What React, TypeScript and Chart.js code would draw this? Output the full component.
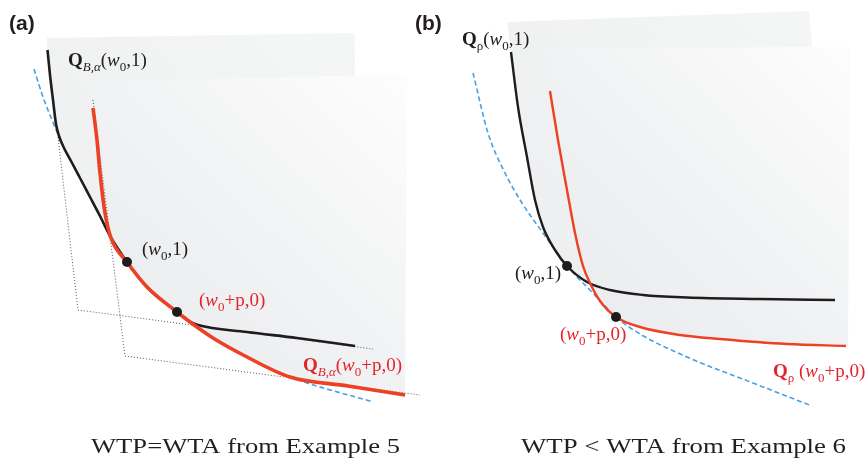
import React, { useEffect, useRef } from "react";
import { Chart, registerables } from "chart.js";

Chart.register(...registerables);

// ---------- data (panel coordinates, y grows downward) ----------
// Panel (a)
const blackCurveA = [[47.5, 50], [50, 75], [53, 100], [56, 124], [59, 136], [64, 148], [71, 161], [80, 178], [90, 197], [100, 216], [110, 236], [127, 262], [147, 287], [177, 312], [189, 321], [198, 325], [247, 332], [297, 338], [355, 346]];
const redCurveA = [[93, 108], [97, 140], [100, 173], [105, 213], [111, 238], [127, 262], [147, 287], [177, 312], [190, 322], [213, 338], [247, 357], [290, 377], [348, 386], [405, 395]];
const blueCurveA = [[34, 69], [43, 97], [52, 120], [57, 132], [64, 148], [71, 161], [80, 178], [90, 197], [100, 216], [110, 236], [127, 262], [147, 287], [177, 312], [213, 338], [247, 357], [290, 377], [373, 402]];
const backFrameA = [[58, 137], [78, 310], [373, 349]];
const frontFrameA = [[93, 100], [125, 356], [420, 395]];
const backSheetA = [[47, 38], [355, 33], [355, 346]];
const frontSheetA = [[93, 82], [407, 74], [405, 395]];
const dotsA = [[127, 262], [177, 312]];

// Panel (b)
const blackCurveB = [[511, 52], [518, 107], [527, 157], [535, 200], [543, 227], [555, 250], [567, 266], [587, 282], [610, 290], [643, 295], [687, 297.5], [760, 299], [835, 300]];
const redCurveB = [[550, 91], [558, 140], [567, 190], [575, 233], [583, 266], [590, 283], [600, 301], [616, 317], [640, 327], [680, 335], [720, 339], [787, 344], [846, 346]];
const blueCurveB = [[473, 73], [488, 133], [505, 173], [522, 203], [543, 233], [567, 266], [577, 277], [590, 290], [603, 304], [616, 317], [640, 334], [687, 357], [753, 383], [812, 406]];
const backSheetB = [[507, 22], [809, 11], [835, 300]];
const frontSheetB = [[549, 48], [850, 47], [848, 346]];
const dotsB = [[567, 266], [616, 317]];

// Labels: segments [text, style]; style: r regular, i italic, b bold, s subscript, si italic subscript
type Seg = [string, string];
const labelQBa1: Seg[] = [["Q", "b"], ["B,α", "si"], ["(", "r"], ["w", "i"], ["0", "s"], [",1)", "r"]];
const labelW1: Seg[] = [["(", "r"], ["w", "i"], ["0", "s"], [",1)", "r"]];
const labelWp0: Seg[] = [["(", "r"], ["w", "i"], ["0", "s"], ["+p,0)", "r"]];
const labelQBaP: Seg[] = [["Q", "b"], ["B,α", "si"], ["(", "r"], ["w", "i"], ["0", "s"], ["+p,0)", "r"]];
const labelQr1: Seg[] = [["Q", "b"], ["ρ", "s"], ["(", "r"], ["w", "i"], ["0", "s"], [",1)", "r"]];
const labelQrP: Seg[] = [["Q", "b"], ["ρ", "s"], [" (", "r"], ["w", "i"], ["0", "s"], ["+p,0)", "r"]];

const panelTags = ["(a)", "(b)"];
const captions = ["WTP=WTA from Example 5", "WTP < WTA from Example 6"];

const BLACK = "#1f1c1d";
const RED_LINE = "#ee4024";
const RED_TEXT = "#e4232b";
const BLUE = "#47a0e2";
const DOT_GRAY = "#555";

const toPts = (a: number[][]) => a.map(([x, y]) => ({ x, y }));

function sheetFill(x0: number, y0: number, x1: number, y1: number, stops: [number, string][]) {
  return (c: any) => {
    const ch = c.chart;
    const xs = ch.scales?.x;
    const ys = ch.scales?.y;
    if (!xs || !ys || !ch.chartArea) return stops[0][1];
    const g = ch.ctx.createLinearGradient(
      xs.getPixelForValue(x0), ys.getPixelForValue(y0),
      xs.getPixelForValue(x1), ys.getPixelForValue(y1)
    );
    stops.forEach(([o, col]) => g.addColorStop(o, col));
    return g;
  };
}

function sheet(corners: number[][], curve: number[][], fill: any, order: number) {
  return {
    data: toPts([...corners, ...curve.slice().reverse()]),
    fill: "shape",
    backgroundColor: fill,
    borderWidth: 0,
    borderColor: "rgba(0,0,0,0)",
    pointRadius: 0,
    tension: 0,
    order,
  };
}

function curve(d: number[][], color: string, width: number, order: number, dash?: number[]) {
  return {
    data: toPts(d),
    borderColor: color,
    borderWidth: width,
    borderDash: dash || [],
    pointRadius: 0,
    fill: false,
    cubicInterpolationMode: "monotone",
    borderCapStyle: "butt",
    order,
  };
}

function frame(d: number[][], order: number) {
  return {
    data: toPts(d),
    borderColor: DOT_GRAY,
    borderWidth: 1,
    borderDash: [1, 2],
    pointRadius: 0,
    fill: false,
    tension: 0,
    order,
  };
}

function dots(d: number[][]) {
  return {
    data: toPts(d),
    showLine: false,
    pointRadius: 5,
    pointBackgroundColor: BLACK,
    pointBorderColor: BLACK,
    pointBorderWidth: 0,
    order: 0,
  };
}

function drawRich(ctx: CanvasRenderingContext2D, segs: Seg[], x: number, y: number, color: string, size: number) {
  let cx = x;
  ctx.fillStyle = color;
  ctx.textBaseline = "alphabetic";
  ctx.textAlign = "left";
  for (const [t, s] of segs) {
    const sub = s.startsWith("s");
    const it = s.includes("i");
    const bd = s.includes("b");
    const fs = sub ? Math.round(size * 0.68) : size;
    ctx.font = `${it ? "italic " : ""}${bd ? "bold " : ""}${fs}px "Liberation Serif"`;
    ctx.fillText(t, cx, y + (sub ? size * 0.24 : 0));
    cx += ctx.measureText(t).width;
  }
}

const labels: { segs: Seg[]; x: number; y: number; color: string }[] = [
  { segs: labelQBa1, x: 68, y: 66, color: BLACK },
  { segs: labelW1, x: 142, y: 255, color: BLACK },
  { segs: labelWp0, x: 199, y: 306, color: RED_TEXT },
  { segs: labelQBaP, x: 303, y: 371, color: RED_TEXT },
  { segs: labelQr1, x: 462, y: 45, color: BLACK },
  { segs: labelW1, x: 515, y: 279, color: BLACK },
  { segs: labelWp0, x: 560, y: 340, color: RED_TEXT },
  { segs: labelQrP, x: 773, y: 377, color: RED_TEXT },
];
const tagPos = [[9, 30], [415, 30]];
const captionPos = [[91, 453, 309], [521, 453, 325]];

const textPlugin = {
  id: "richText",
  afterDatasetsDraw(chart: any) {
    const ctx: CanvasRenderingContext2D = chart.ctx;
    const xs = chart.scales.x;
    const ys = chart.scales.y;
    ctx.save();
    labels.forEach((l) => drawRich(ctx, l.segs, xs.getPixelForValue(l.x), ys.getPixelForValue(l.y), l.color, 19));
    ctx.fillStyle = "#231f20";
    ctx.font = 'bold 21px "Liberation Sans"';
    panelTags.forEach((t, i) => ctx.fillText(t, xs.getPixelForValue(tagPos[i][0]), ys.getPixelForValue(tagPos[i][1])));
    ctx.font = '22px "Liberation Serif"';
    captions.forEach((t, i) => {
      const [cx, cy, w] = captionPos[i];
      const m = ctx.measureText(t).width;
      const px = xs.getPixelForValue(cx);
      const py = ys.getPixelForValue(cy);
      ctx.save();
      ctx.translate(px, py);
      ctx.scale(w / m, 1);
      ctx.fillText(t, 0, 0);
      ctx.restore();
    });
    ctx.restore();
  },
};

const backStops: [number, string][] = [[0, "#eceeef"], [1, "#f5f6f6"]];
const frontStops: [number, string][] = [[0, "#e8eaeb"], [0.5, "#f1f2f3"], [1, "#fdfdfd"]];

export default function App() {
  const ref = useRef<HTMLCanvasElement>(null);
  useEffect(() => {
    if (!ref.current) return;
    const chart = new Chart(ref.current, {
      type: "line",
      data: {
        datasets: [
          sheet(backSheetA, blackCurveA, sheetFill(47, 346, 355, 33, backStops), 20),
          sheet(frontSheetA, redCurveA, sheetFill(93, 395, 407, 74, frontStops), 19),
          sheet(backSheetB, blackCurveB, sheetFill(507, 300, 835, 11, backStops), 20),
          sheet(frontSheetB, redCurveB, sheetFill(549, 346, 850, 47, frontStops), 19),
          frame(backFrameA, 12),
          frame(frontFrameA, 12),
          curve(blueCurveA, BLUE, 1.6, 10, [5, 3]),
          curve(blueCurveB, BLUE, 1.6, 10, [5, 3]),
          curve(blackCurveA, BLACK, 2.6, 5),
          curve(redCurveA, RED_LINE, 3.6, 4),
          curve(blackCurveB, BLACK, 2.4, 5),
          curve(redCurveB, RED_LINE, 2.4, 4),
          dots(dotsA),
          dots(dotsB),
        ] as any,
      },
      options: {
        animation: false,
        responsive: false,
        devicePixelRatio: 1,
        events: [],
        layout: { padding: 0, autoPadding: false },
        plugins: { legend: { display: false }, tooltip: { enabled: false } },
        scales: {
          x: { type: "linear", min: 0, max: 868, display: false },
          y: { type: "linear", min: 0, max: 459, reverse: true, display: false },
        },
      } as any,
      plugins: [textPlugin],
    });
    return () => chart.destroy();
  }, []);
  return (
    <div style={{ position: "fixed", left: 0, top: 0, width: 868, height: 459, background: "#fff" }}>
      <canvas ref={ref} width={868} height={459} style={{ display: "block", width: 868, height: 459 }} />
    </div>
  );
}
